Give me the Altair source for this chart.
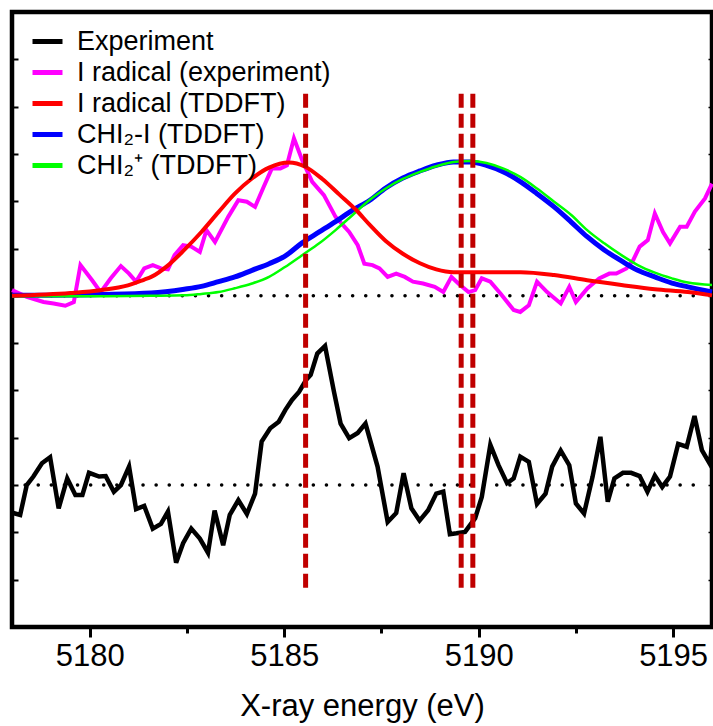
import altair as alt
import pandas as pd

# ---------------- data ----------------
S_EXP = "Experiment"
S_IREXP = "I radical (experiment)"
S_IRTD = "I radical (TDDFT)"
S_CHI2I = "CHI₂-I (TDDFT)"
S_CHI2P = "CHI₂⁺ (TDDFT)"

# Experiment (lower trace, baseline 0)
exp_x = [5178.03, 5178.21, 5178.38, 5178.55, 5178.77, 5178.98, 5179.20, 5179.42, 5179.63, 5179.81,
         5179.98, 5180.24, 5180.41, 5180.62, 5180.80, 5181.01, 5181.19, 5181.40, 5181.62, 5181.83,
         5182.01, 5182.22, 5182.40, 5182.61, 5182.83, 5183.04, 5183.21, 5183.43, 5183.60, 5183.82,
         5184.04, 5184.25, 5184.42, 5184.64, 5184.86, 5185.03, 5185.20, 5185.38, 5185.56, 5185.68,
         5185.85, 5186.05, 5186.28, 5186.45, 5186.67, 5186.89, 5187.09, 5187.40, 5187.66, 5187.88,
         5188.07, 5188.27, 5188.48, 5188.70, 5188.91, 5189.09, 5189.26, 5189.43, 5189.65, 5189.91,
         5190.08, 5190.30, 5190.51, 5190.73, 5190.90, 5191.07, 5191.29, 5191.50, 5191.72, 5191.89,
         5192.11, 5192.33, 5192.50, 5192.71, 5192.93, 5193.13, 5193.32, 5193.49, 5193.71, 5193.92,
         5194.14, 5194.34, 5194.53, 5194.72, 5194.92, 5195.13, 5195.35, 5195.55, 5195.74, 5195.95,
         5196.00]
exp_y = [-0.59, -0.63, 0.00, 0.18, 0.46, 0.59, -0.49, 0.14, -0.21, -0.21,
         0.26, 0.18, 0.19, -0.14, 0.00, 0.39, -0.51, -0.44, -0.92, -0.82,
         -0.56, -1.64, -1.23, -0.92, -1.13, -1.43, -0.54, -1.27, -0.63, -0.32,
         -0.61, -0.18, 0.92, 1.20, 1.34, 1.59, 1.80, 1.97, 2.22, 2.33,
         2.78, 2.94, 1.97, 1.30, 0.99, 1.10, 1.30, 0.39, -0.78, -0.59,
         0.25, -0.49, -0.75, -0.53, -0.18, -0.14, -1.04, -1.02, -0.99, -0.70,
         -0.25, 0.85, 0.42, 0.04, 0.14, 0.60, 0.49, -0.40, -0.18, 0.39,
         0.73, 0.42, -0.39, -0.60, 0.18, 1.02, -0.35, 0.14, 0.26, 0.26,
         0.19, -0.14, 0.20, -0.04, 0.18, 0.87, 0.81, 1.46, 0.74, 0.44,
         0.91]

# I radical (experiment) (upper trace, own baseline 0)
irexp_x = [5178.00, 5178.38, 5178.81, 5179.07, 5179.37, 5179.59, 5179.76, 5180.06, 5180.28, 5180.54,
           5180.80, 5181.01, 5181.19, 5181.40, 5181.62, 5181.83, 5182.01, 5182.18, 5182.40, 5182.61,
           5182.83, 5183.00, 5183.22, 5183.56, 5183.82, 5184.04, 5184.25, 5184.47, 5184.68, 5184.90,
           5185.07, 5185.25, 5185.46, 5185.72, 5186.02, 5186.32, 5186.67, 5186.89, 5187.06, 5187.27,
           5187.45, 5187.66, 5187.88, 5188.10, 5188.31, 5188.57, 5188.87, 5189.09, 5189.30, 5189.52,
           5189.74, 5189.91, 5190.08, 5190.30, 5190.56, 5190.90, 5191.07, 5191.29, 5191.50, 5191.76,
           5192.11, 5192.33, 5192.50, 5192.80, 5193.10, 5193.36, 5193.54, 5193.80, 5193.97, 5194.14,
           5194.35, 5194.53, 5194.74, 5194.92, 5195.18, 5195.35, 5195.56, 5195.82, 5196.00]
irexp_y = [0.12, -0.02, -0.13, -0.16, -0.21, -0.13, 0.65, 0.33, 0.08, 0.37,
           0.63, 0.47, 0.30, 0.58, 0.65, 0.58, 0.56, 0.86, 1.07, 1.04,
           0.93, 1.39, 1.14, 1.67, 2.02, 1.99, 1.88, 2.30, 2.69, 2.69,
           2.76, 3.33, 2.87, 2.41, 2.13, 1.67, 1.35, 1.07, 0.68, 0.65,
           0.58, 0.40, 0.47, 0.40, 0.30, 0.26, 0.19, 0.08, 0.40, 0.23,
           0.08, 0.12, 0.37, 0.30, 0.05, -0.30, -0.34, -0.20, 0.30, 0.08,
           -0.16, 0.19, -0.13, 0.16, 0.37, 0.47, 0.47, 0.58, 0.75, 1.04,
           1.18, 1.74, 1.35, 1.11, 1.46, 1.46, 1.78, 2.06, 2.37]

# I radical (TDDFT)
irtd_x = [5178.00, 5179.50, 5180.28, 5180.98, 5181.39, 5181.58, 5182.02, 5182.43, 5182.87, 5183.32,
          5183.73, 5184.17, 5184.61, 5185.12, 5185.54, 5185.98, 5186.42, 5186.83, 5187.20, 5187.61,
          5188.05, 5188.49, 5188.91, 5189.35, 5190.20, 5191.08, 5191.94, 5192.79, 5193.67, 5194.53,
          5195.38, 5196.00]
irtd_y = [0.00, 0.06, 0.12, 0.22, 0.34, 0.40, 0.65, 0.97, 1.35, 1.78,
          2.16, 2.48, 2.71, 2.82, 2.73, 2.47, 2.14, 1.83, 1.50, 1.16,
          0.89, 0.69, 0.56, 0.50, 0.50, 0.50, 0.44, 0.33, 0.23, 0.14,
          0.08, 0.01]

# CHI2-I and CHI2+ (TDDFT), sampled at the same energies
chi_x = [5178.00, 5180.28, 5181.58, 5182.43, 5182.87, 5183.31, 5183.73, 5184.17, 5184.61, 5185.02,
         5185.46, 5185.90, 5186.32, 5186.76, 5187.20, 5187.61, 5188.05, 5188.49, 5188.91, 5189.35,
         5189.79, 5190.20, 5190.64, 5191.08, 5191.50, 5191.94, 5192.38, 5192.79, 5193.23, 5193.67,
         5194.09, 5194.53, 5194.97, 5195.38, 5196.00]
chi2i_y = [0.01, 0.03, 0.06, 0.14, 0.20, 0.30, 0.40, 0.54, 0.68, 0.84,
           1.12, 1.35, 1.57, 1.81, 2.02, 2.28, 2.49, 2.64, 2.76, 2.83,
           2.83, 2.76, 2.62, 2.41, 2.16, 1.88, 1.56, 1.25, 0.97, 0.74,
           0.54, 0.40, 0.27, 0.19, 0.08]
chi2p_y = [-0.01, -0.01, 0.00, 0.01, 0.04, 0.08, 0.16, 0.26, 0.40, 0.61,
           0.86, 1.11, 1.39, 1.71, 2.03, 2.27, 2.47, 2.62, 2.74, 2.83,
           2.85, 2.81, 2.69, 2.51, 2.27, 1.99, 1.71, 1.39, 1.11, 0.86,
           0.65, 0.49, 0.37, 0.28, 0.23]

# vertical reference lines (eV) and their vertical extent
dash_x = [5185.55, 5189.55, 5189.85]
dash_lo = [-2.28, -2.28, -2.28]
dash_hi = [8.27, 8.27, 8.27]

# offset of the upper group of traces and dotted baselines
UPPER_OFFSET = 4.0
baseline_y = [0.0, UPPER_OFFSET]
baseline_x0 = [5178.0, 5178.0]
baseline_x1 = [5195.75, 5195.75]

X_DOMAIN = [5178, 5196]
Y_DOMAIN = [-3, 10]
x_major = [5180, 5185, 5190, 5195]
x_minor = [5182.5, 5187.5, 5192.5]
y_tick_values = list(range(-3, 11))

series_order = [S_EXP, S_IREXP, S_IRTD, S_CHI2I, S_CHI2P]
series_colors = ["#000000", "#FF00FF", "#FF0000", "#0000FF", "#00FF00"]

# ---------------- tables ----------------
def frame(xs, ys, name, offset=0.0):
    return pd.DataFrame({"energy": xs, "value": [v + offset for v in ys], "series": name})

df_exp = frame(exp_x, exp_y, S_EXP)
df_irexp = frame(irexp_x, irexp_y, S_IREXP, UPPER_OFFSET)
df_irtd = frame(irtd_x, irtd_y, S_IRTD, UPPER_OFFSET)
df_chi2i = frame(chi_x, chi2i_y, S_CHI2I, UPPER_OFFSET)
df_chi2p = frame(chi_x, chi2p_y, S_CHI2P, UPPER_OFFSET)
df_dash = pd.DataFrame({"energy": dash_x, "lo": dash_lo, "hi": dash_hi})
df_base = pd.DataFrame({"x0": baseline_x0, "x1": baseline_x1, "y": baseline_y})

FONT = "Liberation Sans"
W, H = 700, 615

x_scale = alt.Scale(domain=X_DOMAIN, nice=False, zero=False)
y_scale = alt.Scale(domain=Y_DOMAIN, nice=False, zero=False)
color_scale = alt.Scale(domain=series_order, range=series_colors)

x_axis_major = alt.Axis(
    orient="bottom", values=x_major, format="d",
    tickSize=10, tickWidth=3, tickColor="black", domain=False, grid=False,
    labelFont=FONT, labelFontSize=31, labelColor="black", labelPadding=4,
    labelOverlap=False, labelFlush=False,
    title="X-ray energy (eV)", titleFont=FONT, titleFontSize=31,
    titleFontWeight="normal", titleColor="black", titlePadding=20,
)
x_axis_minor = alt.Axis(
    orient="bottom", values=x_minor, labels=False, title=None,
    tickSize=6, tickWidth=3, tickColor="black", domain=False, grid=False,
)
# inward ticks on left and right frames
y_axis_left = alt.Axis(orient="left", values=y_tick_values, labels=False,
                       title=None, domain=False, grid=False,
                       tickSize=alt.ExprRef("-6"), tickWidth=2, tickColor="black")
y_axis_right = alt.Axis(orient="right", values=y_tick_values, labels=False,
                        title=None, domain=False, grid=False,
                        tickSize=alt.ExprRef("-4"), tickWidth=1.5, tickColor="black")

legend = alt.Legend(
    orient="none", legendX=18, legendY=12, title=None, symbolType="stroke",
    symbolSize=900, symbolStrokeWidth=5, labelFont=FONT, labelFontSize=27,
    labelColor="black", labelOffset=12, rowPadding=0, labelLimit=600, padding=0,
)

baselines = alt.Chart(df_base).mark_rule(
    color="black", strokeWidth=3.5, strokeDash=[0.1, 13], strokeCap="round"
).encode(
    x=alt.X("x0:Q", scale=x_scale, axis=x_axis_major),
    x2="x1:Q",
    y=alt.Y("y:Q", scale=y_scale, axis=y_axis_left),
)


def line(df, width, interp, yaxis=None):
    return alt.Chart(df).mark_line(strokeWidth=width, interpolate=interp).encode(
        x=alt.X("energy:Q", scale=x_scale, axis=None),
        y=alt.Y("value:Q", scale=y_scale, axis=yaxis),
        color=alt.Color("series:N", scale=color_scale, legend=legend),
    )


l_irexp = line(df_irexp, 4, "linear", y_axis_right)
l_chi2i = line(df_chi2i, 5, "monotone")
l_chi2p = line(df_chi2p, 2.5, "monotone")
l_irtd = line(df_irtd, 4, "monotone")
l_exp = line(df_exp, 4.5, "linear")

dashes = alt.Chart(df_dash).mark_rule(
    color="#C00000", strokeWidth=5, strokeDash=[14, 6]
).encode(
    x=alt.X("energy:Q", scale=x_scale, axis=x_axis_minor),
    y=alt.Y("hi:Q", scale=y_scale, axis=None),
    y2="lo:Q",
)

chart = alt.layer(
    baselines, l_irexp, l_chi2i, l_chi2p, l_irtd, l_exp, dashes
).resolve_axis(x="independent", y="independent").properties(
    width=W, height=H,
    padding={"left": 12, "top": 12, "right": 1, "bottom": 99},
    autosize=alt.AutoSizeParams(type="none"),
).configure(font=FONT, background="white").configure_view(
    stroke="black", strokeWidth=4.5
)

chart.save("out.html", embed_options={"renderer": "svg", "actions": False})
